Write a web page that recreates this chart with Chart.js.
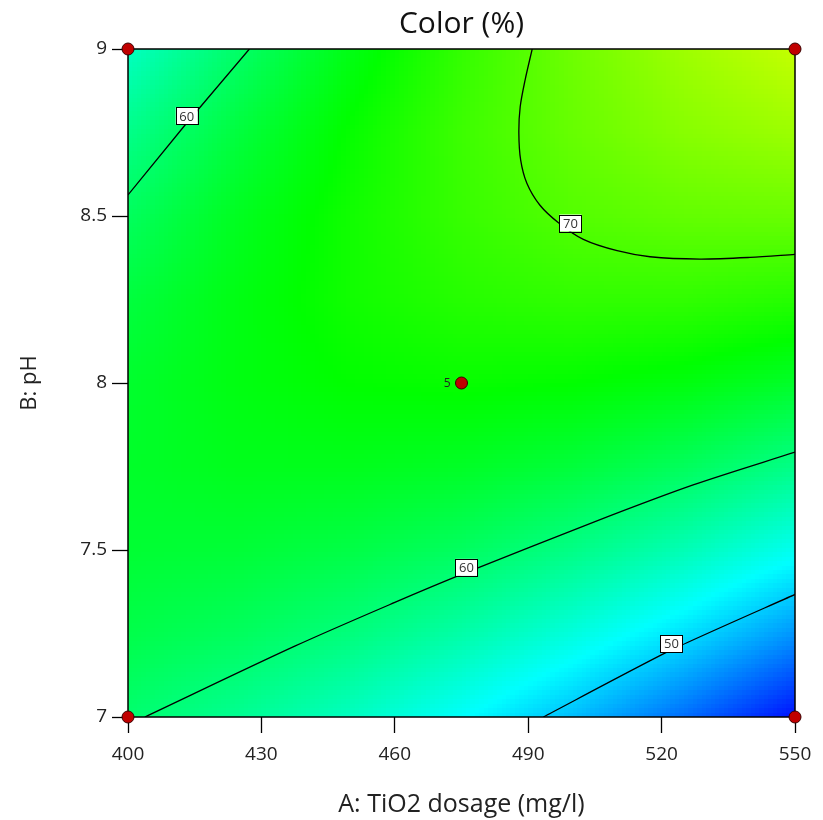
<!DOCTYPE html>
<html>
<head>
<meta charset="utf-8">
<title>Color (%)</title>
<script src="https://cdn.jsdelivr.net/npm/chart.js@4.4.1/dist/chart.umd.min.js"></script>
<style>
  html, body { margin: 0; padding: 0; background: #fff; }
</style>
</head>
<body>
<canvas id="contourChart" width="823" height="820"></canvas>
<script>
// Factor grid: A = TiO2 dosage (mg/l), B = pH
const dosageGrid = [400, 425, 450, 475, 500, 525, 550];
const phGrid = [7, 7.25, 7.5, 7.75, 8, 8.25, 8.5, 8.75, 9];

// Predicted Color (%) at each node, one row per pH value
const colorGrid = [
  [59.8, 57.9, 55.5, 52.4, 48.8, 44.6, 39.8],
  [61.7, 60.7, 59.1, 56.8, 54.0, 50.7, 46.7],
  [62.9, 62.7, 61.9, 60.6, 58.6, 56.1, 53.0],
  [63.4, 64.1, 64.1, 63.6, 62.5, 60.8, 58.5],
  [63.2, 64.7, 65.6, 65.9, 65.6, 64.8, 63.4],
  [62.3, 64.6, 66.4, 67.5, 68.1, 68.1, 67.5],
  [60.7, 63.9, 66.4, 68.4, 69.9, 70.7, 71.0],
  [58.4, 62.4, 65.8, 68.7, 70.9, 72.6, 73.7],
  [55.4, 60.2, 64.5, 68.2, 71.3, 73.8, 75.8]
];

// colour ramp ends: blue at the low end, red at the high end
const rampLow = 38.9;
const rampHigh = 92.2;

// contour lines (dosage, pH pairs)
const c60UpperDosage = [400, 413.3, 427.3];
const c60UpperPh = [8.563, 8.78, 9.0];

const c70Dosage = [490.9, 489.3, 488.2, 487.9, 488.3, 489.7, 492.6, 496.8, 502.4, 510.0, 517.4, 528.6, 539.9, 550];
const c70Ph = [9.0, 8.907, 8.827, 8.748, 8.668, 8.598, 8.533, 8.480, 8.430, 8.396, 8.378, 8.371, 8.376, 8.385];

const c60LowerDosage = [403.8, 437.5, 460.0, 476.0, 504.6, 527.1, 550];
const c60LowerPh = [7.0, 7.212, 7.343, 7.432, 7.583, 7.695, 7.793];

const c50Dosage = [493.4, 522.1, 550];
const c50Ph = [7.0, 7.2, 7.367];

// contour labels
const labelLevels = [60, 70, 60, 50];
const labelDosage = [413.2, 499.5, 476.1, 522.2];
const labelPh = [8.80, 8.479, 7.448, 7.22];

// design points and replicate counts
const designDosage = [400, 400, 550, 550, 475];
const designPh = [7, 9, 7, 9, 8];
const designReps = [1, 1, 1, 1, 5];

const FONT = "'Open Sans', 'Noto Sans', sans-serif";

function toPoints(xs, ys) {
  return xs.map((x, i) => ({ x, y: ys[i] }));
}

function hueColor(h) {
  const f = (n) => {
    const k = (n + h / 60) % 6;
    return Math.round(255 * (1 - Math.max(0, Math.min(k, 4 - k, 1))));
  };
  return `rgb(${f(5)},${f(3)},${f(1)})`;
}

function rampColor(v) {
  let t = (v - rampLow) / (rampHigh - rampLow);
  t = Math.max(0, Math.min(1, t));
  return hueColor(240 * (1 - t));
}

function findCell(grid, v) {
  let k = 0;
  while (k < grid.length - 2 && v > grid[k + 1]) k++;
  const t = (v - grid[k]) / (grid[k + 1] - grid[k]);
  return [k, t];
}

function valueAt(dosage, ph) {
  const [i, tx] = findCell(dosageGrid, dosage);
  const [j, ty] = findCell(phGrid, ph);
  const v00 = colorGrid[j][i], v10 = colorGrid[j][i + 1];
  const v01 = colorGrid[j + 1][i], v11 = colorGrid[j + 1][i + 1];
  return (v00 * (1 - tx) + v10 * tx) * (1 - ty) + (v01 * (1 - tx) + v11 * tx) * ty;
}

// shaded response surface + plot frame, drawn under the datasets
const surfacePlugin = {
  id: 'surface',
  beforeDatasetsDraw(chart) {
    const { ctx, chartArea, scales: { x, y } } = chart;
    const aMin = dosageGrid[0], aMax = dosageGrid[dosageGrid.length - 1];
    const bMin = phGrid[0], bMax = phGrid[phGrid.length - 1];
    const nA = 150, nB = 150;
    ctx.save();
    for (let i = 0; i < nA; i++) {
      const a0 = aMin + (aMax - aMin) * i / nA;
      const a1 = aMin + (aMax - aMin) * (i + 1) / nA;
      const px0 = Math.round(x.getPixelForValue(a0));
      const px1 = Math.round(x.getPixelForValue(a1));
      for (let j = 0; j < nB; j++) {
        const b0 = bMin + (bMax - bMin) * j / nB;
        const b1 = bMin + (bMax - bMin) * (j + 1) / nB;
        const py0 = Math.round(y.getPixelForValue(b0));
        const py1 = Math.round(y.getPixelForValue(b1));
        ctx.fillStyle = rampColor(valueAt((a0 + a1) / 2, (b0 + b1) / 2));
        ctx.fillRect(px0, py1, px1 - px0, py0 - py1);
      }
    }
    ctx.strokeStyle = '#000';
    ctx.lineWidth = 1.5;
    ctx.strokeRect(chartArea.left, chartArea.top, chartArea.right - chartArea.left, chartArea.bottom - chartArea.top);
    ctx.restore();
  },
  afterDatasetsDraw(chart) {
    const { ctx, scales: { x, y } } = chart;
    ctx.save();
    ctx.font = `13px ${FONT}`;
    ctx.textAlign = 'center';
    ctx.textBaseline = 'middle';
    labelLevels.forEach((lvl, i) => {
      const cx = x.getPixelForValue(labelDosage[i]);
      const cy = y.getPixelForValue(labelPh[i]);
      const w = 22, h = 17;
      ctx.fillStyle = '#fff';
      ctx.fillRect(cx - w / 2, cy - h / 2, w, h);
      ctx.strokeStyle = '#000';
      ctx.lineWidth = 1;
      ctx.strokeRect(Math.round(cx - w / 2) + 0.5, Math.round(cy - h / 2) + 0.5, w, h);
      ctx.fillStyle = '#333';
      ctx.fillText(String(lvl), cx, cy + 1);
    });
    // replicate count next to a design point
    ctx.font = `12px ${FONT}`;
    ctx.textAlign = 'right';
    ctx.fillStyle = '#222';
    designReps.forEach((n, i) => {
      if (n > 1) {
        ctx.fillText(String(n), x.getPixelForValue(designDosage[i]) - 11, y.getPixelForValue(designPh[i]) + 1);
      }
    });
    ctx.restore();
  }
};

function contourSet(xs, ys, tension) {
  return {
    type: 'line',
    data: toPoints(xs, ys),
    borderColor: '#000',
    borderWidth: 1.3,
    pointRadius: 0,
    fill: false,
    tension
  };
}

new Chart(document.getElementById('contourChart'), {
  type: 'scatter',
  data: {
    datasets: [
      {
        data: toPoints(designDosage, designPh),
        backgroundColor: '#c00000',
        borderColor: '#3a0000',
        borderWidth: 1,
        pointRadius: 6,
        clip: false
      },
      contourSet(c60UpperDosage, c60UpperPh, 0),
      contourSet(c70Dosage, c70Ph, 0.3),
      contourSet(c60LowerDosage, c60LowerPh, 0.3),
      contourSet(c50Dosage, c50Ph, 0.2)
    ]
  },
  options: {
    responsive: false,
    animation: false,
    layout: { padding: { left: 0, right: 28, top: 0, bottom: 0 } },
    plugins: {
      legend: { display: false },
      tooltip: { enabled: false },
      title: {
        display: true,
        text: 'Color (%)',
        fullSize: false,
        color: '#111',
        font: { family: FONT, size: 30, weight: 'normal', lineHeight: 1.2 },
        padding: { top: 6, bottom: 7 }
      }
    },
    scales: {
      x: {
        type: 'linear',
        min: 400,
        max: 550,
        afterFit: (s) => { s.height = 103; },
        ticks: { stepSize: 30, color: '#222', font: { family: FONT, size: 19 }, padding: 10 },
        grid: { drawOnChartArea: false, drawTicks: true, tickLength: 16, tickColor: '#000', tickWidth: 1.3 },
        border: { display: false },
        title: {
          display: true,
          text: 'A: TiO2 dosage (mg/l)',
          color: '#222',
          font: { family: FONT, size: 25 },
          padding: { top: 0, bottom: 0 }
        }
      },
      y: {
        type: 'linear',
        min: 7,
        max: 9,
        afterFit: (s) => { s.width = 128; },
        ticks: {
          stepSize: 0.5,
          color: '#222',
          font: { family: FONT, size: 19 },
          padding: 5,
          callback: (v) => String(+v)
        },
        grid: { drawOnChartArea: false, drawTicks: true, tickLength: 16, tickColor: '#000', tickWidth: 1.3 },
        border: { display: false },
        title: {
          display: true,
          text: 'B: pH',
          color: '#222',
          font: { family: FONT, size: 22 },
          padding: { top: 17, bottom: 0 }
        }
      }
    }
  },
  plugins: [surfacePlugin]
});
</script>
</body>
</html>
